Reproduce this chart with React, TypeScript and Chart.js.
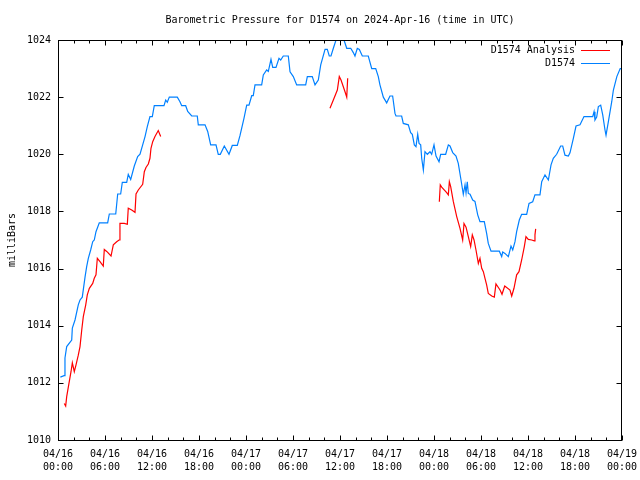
import React, { useEffect, useRef } from "react";
import { Chart, registerables } from "chart.js";

Chart.register(...registerables);

// hours after 2024-04-16 00:00 UTC
const blueHours = [
  0.3, 0.77, 0.89, 1.11, 1.75, 1.83, 2.17, 2.59, 2.81, 3.1,
  3.45, 3.66, 3.87, 4.17, 4.43, 4.63, 4.85, 5.27, 6.34, 6.55,
  7.37, 7.62, 8.0, 8.21, 8.77, 8.97, 9.28, 9.74, 10.17, 10.47,
  10.81, 11.11, 11.4, 11.74, 12.04, 12.29, 13.53, 13.75, 13.95, 14.21,
  15.23, 15.57, 15.79, 16.3, 16.56, 17.07, 17.78, 17.91, 18.77, 19.11,
  19.49, 20.17, 20.46, 20.72, 21.23, 21.83, 22.25, 22.89, 23.23, 23.74,
  24.09, 24.38, 24.73, 24.93, 25.15, 26.0, 26.21, 26.64, 26.85, 27.19,
  27.41, 27.83, 28.21, 28.43, 28.76, 29.4, 29.62, 30.04, 30.47, 31.62,
  31.83, 32.46, 32.81, 33.23, 33.54, 34.09, 34.38, 34.63, 34.85, 35.15,
  35.49, 35.87, 36.13, 36.51, 36.86, 37.37, 37.7, 37.91, 38.21, 38.47,
  38.85, 39.61, 40.05, 40.56, 40.89, 41.1, 41.53, 41.96, 42.38, 42.72,
  43.02, 43.15, 43.87, 44.08, 44.72, 45.02, 45.23, 45.49, 45.7, 45.92,
  46.09, 46.3, 46.43, 46.64, 46.85, 47.15, 47.49, 47.7, 48.0, 48.26,
  48.64, 48.85, 49.49, 49.83, 50.04, 50.39, 50.81, 51.1, 51.45, 51.74,
  51.96, 52.09, 52.25, 52.38, 52.6, 52.94, 53.23, 53.58, 53.87, 54.42,
  54.72, 54.93, 55.28, 56.34, 56.64, 56.77, 57.06, 57.49, 57.83, 58.05,
  58.34, 58.55, 58.89, 59.19, 59.83, 60.13, 60.6, 60.89, 61.53, 61.75,
  62.17, 62.6, 62.94, 63.23, 63.66, 64.17, 64.43, 64.72, 65.15, 65.36,
  65.79, 66.13, 66.64, 67.15, 68.26, 68.43, 68.55, 68.77, 68.98, 69.28,
  69.54, 69.83, 69.96, 70.26, 70.69, 70.9, 71.34, 71.77, 71.98,
];

const bluePressure = [
  1012.2, 1012.25, 1012.87, 1013.27, 1013.5, 1013.92, 1014.2, 1014.73, 1014.9, 1015.0,
  1015.7, 1016.07, 1016.36, 1016.65, 1016.94, 1017.0, 1017.29, 1017.6, 1017.6, 1017.91,
  1017.91, 1018.61, 1018.61, 1019.02, 1019.02, 1019.3, 1019.12, 1019.59, 1019.92, 1020.0,
  1020.33, 1020.62, 1020.97, 1021.32, 1021.32, 1021.7, 1021.7, 1021.9, 1021.82, 1022.0,
  1022.0, 1021.84, 1021.7, 1021.7, 1021.5, 1021.34, 1021.34, 1021.03, 1021.03, 1020.8,
  1020.33, 1020.33, 1020.0, 1020.0, 1020.29, 1020.0, 1020.31, 1020.31, 1020.65, 1021.26,
  1021.72, 1021.72, 1022.05, 1022.05, 1022.43, 1022.43, 1022.78, 1022.95, 1022.9, 1023.32,
  1023.04, 1023.04, 1023.36, 1023.3, 1023.44, 1023.44, 1022.89, 1022.72, 1022.43, 1022.43,
  1022.72, 1022.72, 1022.43, 1022.6, 1023.13, 1023.67, 1023.67, 1023.44, 1023.44, 1023.71,
  1024.0, 1024.15, 1024.15, 1024.0, 1023.71, 1023.71, 1023.56, 1023.44, 1023.71, 1023.67,
  1023.44, 1023.44, 1023.0, 1023.0, 1022.72, 1022.43, 1022.0, 1021.8, 1022.04, 1022.04,
  1021.43, 1021.34, 1021.34, 1021.08, 1021.03, 1020.76, 1020.7, 1020.33, 1020.27, 1020.7,
  1020.38, 1020.33, 1019.86, 1019.45, 1020.09, 1020.0, 1020.09, 1020.0, 1020.33, 1019.94,
  1019.74, 1020.0, 1020.0, 1020.33, 1020.29, 1020.06, 1019.94, 1019.68, 1019.1, 1018.6,
  1018.93, 1018.65, 1019.04, 1018.63, 1018.6, 1018.4, 1018.35, 1017.88, 1017.64, 1017.64,
  1017.23, 1016.88, 1016.61, 1016.61, 1016.42, 1016.58, 1016.53, 1016.42, 1016.79, 1016.65,
  1016.94, 1017.29, 1017.7, 1017.9, 1017.9, 1018.28, 1018.34, 1018.58, 1018.58, 1019.04,
  1019.28, 1019.1, 1019.63, 1019.86, 1020.0, 1020.29, 1020.29, 1019.97, 1019.94, 1020.05,
  1020.56, 1020.99, 1021.03, 1021.32, 1021.32, 1021.49, 1021.2, 1021.3, 1021.67, 1021.72,
  1021.38, 1020.85, 1020.67, 1021.14, 1021.84, 1022.25, 1022.72, 1023.0, 1023.0,
];

const redHours = [
  0.8, 0.98, 1.11, 1.4, 1.66, 1.83, 2.08, 2.3, 2.59, 2.81,
  3.03, 3.23, 3.54, 3.74, 4.0, 4.43, 4.63, 4.85, 5.02, 5.36,
  5.78, 5.91, 6.22, 6.77, 7.06, 7.49, 7.79, 7.91, 8.46, 8.85,
  8.97, 9.41, 9.83, 9.96, 10.25, 10.81, 11.02, 11.23, 11.53, 11.74,
  11.87, 12.09, 12.38, 12.8, 13.11,
  20,
  34.72, 35.15, 35.66, 35.91, 36.13, 36.64, 36.86, 36.98,
  42,
  48.68, 48.8, 48.98, 49.62, 49.83, 49.96, 50.13, 50.47, 50.9, 51.32,
  51.66, 51.83, 52.09, 52.38, 52.68, 52.89, 53.11, 53.36, 53.66, 53.87,
  54.09, 54.3, 54.51, 54.72, 54.93, 55.37, 55.7, 55.91, 56.43, 56.68,
  57.03, 57.7, 57.92, 58.21, 58.55, 58.85, 59.19, 59.53, 59.74, 60.04,
  60.47, 60.81, 60.89, 60.98,
];

const redPressure: (number | null)[] = [
  1011.28, 1011.19, 1011.52, 1011.98, 1012.39, 1012.7, 1012.39, 1012.63, 1012.97, 1013.27,
  1013.85, 1014.32, 1014.73, 1015.08, 1015.31, 1015.48, 1015.66, 1015.78, 1016.36, 1016.24,
  1016.09, 1016.67, 1016.6, 1016.44, 1016.83, 1016.94, 1017.0, 1017.58, 1017.58, 1017.55,
  1018.11, 1018.05, 1017.97, 1018.61, 1018.75, 1018.95, 1019.39, 1019.54, 1019.66, 1019.86,
  1020.21, 1020.44, 1020.62, 1020.83, 1020.62,
  null,
  1021.61, 1021.9, 1022.25, 1022.72, 1022.6, 1022.19, 1022.0, 1022.66,
  null,
  1018.34, 1018.93, 1018.85, 1018.66, 1018.58, 1019.04, 1018.87, 1018.34, 1017.82, 1017.41,
  1017.0, 1017.58, 1017.45, 1017.12, 1016.77, 1017.18, 1017.0, 1016.65, 1016.18, 1016.36,
  1016.01, 1015.89, 1015.66, 1015.43, 1015.13, 1015.04, 1015.0, 1015.46, 1015.25, 1015.1,
  1015.39, 1015.25, 1015.04, 1015.31, 1015.78, 1015.89, 1016.3, 1016.77, 1017.12, 1017.02,
  1017.0, 1016.97, 1017.18, 1017.39,
];

const seriesLabels = ["D1574 Analysis", "D1574"];
const seriesColors = ["#ff0000", "#0080ff"];
const titleText = "Barometric Pressure for D1574 on 2024-Apr-16 (time in UTC)";
const yTitle = "milliBars";
const startDay = 16;
const monthLabel = "04";

const FONT = "'DejaVu Sans Mono', 'Liberation Mono', monospace";

function hourLabel(h: number): string[] {
  const day = startDay + Math.floor(h / 24);
  const hh = Math.round(h % 24);
  return [`${monthLabel}/${String(day).padStart(2, "0")}`, `${String(hh).padStart(2, "0")}:00`];
}

const framePlugin = {
  id: "gnuFrame",
  afterDatasetsDraw(chart: any) {
    const { ctx, chartArea: a, scales } = chart;
    const xs = scales.x;
    const ys = scales.y;
    const L = Math.floor(a.left) + 0.5;
    const R = Math.floor(a.right) - 0.5;
    const T = Math.floor(a.top) + 0.5;
    const B = Math.floor(a.bottom) + 0.5;
    ctx.save();
    ctx.strokeStyle = "#000";
    ctx.lineWidth = 1;
    ctx.strokeRect(L, T, R - L, B - T);
    ctx.beginPath();
    for (let h = 0; h <= 72; h += 2) {
      const px = Math.round(xs.getPixelForValue(h)) + 0.5;
      const len = h % 6 === 0 ? 5 : 3;
      ctx.moveTo(px, B);
      ctx.lineTo(px, B - len);
      ctx.moveTo(px, T);
      ctx.lineTo(px, T + len);
    }
    for (const t of ys.ticks) {
      const py = Math.round(ys.getPixelForValue(t.value)) + 0.5;
      ctx.moveTo(L, py);
      ctx.lineTo(L + 5, py);
      ctx.moveTo(R, py);
      ctx.lineTo(R - 5, py);
    }
    ctx.stroke();

    // legend (inside top-right)
    ctx.font = `10px ${FONT}`;
    ctx.fillStyle = "#000";
    ctx.textAlign = "right";
    ctx.textBaseline = "middle";
    chart.data.datasets.forEach((ds: any, i: number) => {
      const yy = 50 + i * 13;
      ctx.fillText(ds.label, 575, yy);
      ctx.beginPath();
      ctx.strokeStyle = ds.borderColor;
      ctx.moveTo(581, yy + 0.5);
      ctx.lineTo(610, yy + 0.5);
      ctx.stroke();
    });
    ctx.restore();
  },
};

export default function App() {
  const ref = useRef<HTMLCanvasElement>(null);
  useEffect(() => {
    const redData = redHours.map((h, i) => ({ x: h, y: redPressure[i] }));
    const blueData = blueHours.map((h, i) => ({ x: h, y: bluePressure[i] }));
    const chart = new Chart(ref.current as HTMLCanvasElement, {
      type: "line",
      data: {
        datasets: [
          {
            label: seriesLabels[0],
            data: redData as any,
            borderColor: seriesColors[0],
            borderWidth: 1.2,
            pointRadius: 0,
            spanGaps: false,
            tension: 0,
          },
          {
            label: seriesLabels[1],
            data: blueData as any,
            borderColor: seriesColors[1],
            borderWidth: 1.2,
            pointRadius: 0,
            tension: 0,
          },
        ],
      },
      options: {
        animation: false,
        responsive: false,
        devicePixelRatio: 1,
        layout: { padding: { left: 0, right: 18, top: 0, bottom: 0 } },
        plugins: {
          legend: { display: false },
          tooltip: { enabled: false },
          title: {
            display: true,
            fullSize: false,
            text: titleText,
            color: "#000",
            font: { family: FONT, size: 10, weight: "normal" as any, lineHeight: 1.2 },
            padding: { top: 14, bottom: 14 },
          },
        },
        scales: {
          x: {
            type: "linear",
            min: 0,
            max: 72,
            afterFit: (s: any) => {
              s.height = 40;
              s.paddingLeft = 0;
              s.paddingRight = 0;
            },
            grid: { display: false, drawTicks: false },
            border: { display: false },
            ticks: {
              stepSize: 6,
              autoSkip: false,
              maxRotation: 0,
              minRotation: 0,
              padding: 8,
              color: "#000",
              font: { family: FONT, size: 10, lineHeight: 1.3 },
              callback: (v: any) => hourLabel(Number(v)),
            },
          },
          y: {
            type: "linear",
            min: 1010,
            max: 1024,
            afterFit: (s: any) => {
              s.width = 58;
              s.paddingTop = 0;
              s.paddingBottom = 0;
            },
            grid: { display: false, drawTicks: false },
            border: { display: false },
            ticks: {
              stepSize: 2,
              padding: 7,
              color: "#000",
              font: { family: FONT, size: 10 },
              callback: (v: any) => String(v),
            },
            title: {
              display: true,
              text: yTitle,
              color: "#000",
              font: { family: FONT, size: 10, lineHeight: 1.2 },
              padding: { top: 6, bottom: 0 },
            },
          },
        },
      },
      plugins: [framePlugin],
    });
    return () => chart.destroy();
  }, []);
  return (
    <div style={{ position: "absolute", left: 0, top: 0, width: 640, height: 480, background: "#fff" }}>
      <canvas ref={ref} width={640} height={480} style={{ width: 640, height: 480, display: "block" }} />
    </div>
  );
}
